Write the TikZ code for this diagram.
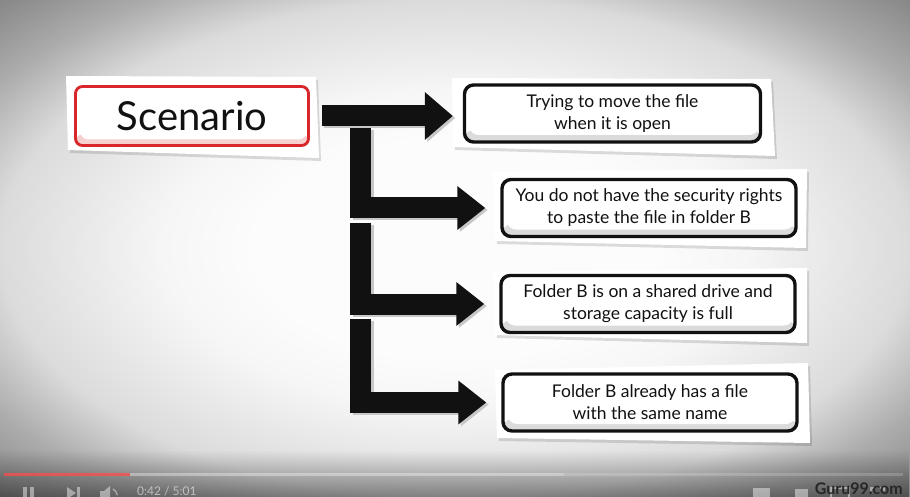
\documentclass[tikz,border=0pt]{standalone}
\usepackage{fontspec}
\setmainfont{Lato}
\usetikzlibrary{arrows.meta,calc,fadings}
\definecolor{bgc}{HTML}{FCFCFC}
\definecolor{bgi}{HTML}{F6F6F6}
\definecolor{bgm}{HTML}{DBDBDB}
\definecolor{bgo}{HTML}{ACACAC}
\definecolor{bge}{HTML}{868686}
\definecolor{ink}{HTML}{111111}
\definecolor{redline}{HTML}{D8262A}
\definecolor{pinkband}{HTML}{F6CFCF}
\pgfdeclareradialshading{vignette}{\pgfpoint{0bp}{0bp}}{color(0bp)=(bgc); color(11bp)=(bgc); color(16bp)=(bgi); color(25bp)=(bgm); color(30bp)=(bgo); color(35.5bp)=(bge); color(50bp)=(bge)}
\begin{document}
\begin{tikzpicture}[x=1pt,y=-1pt,
  papershadow/.style={fill=black,opacity=.13},
  paper/.style={fill=white},
  cardbox/.style={draw=ink, line width=3.4pt, rounded corners=9pt, fill=white,
    minimum width=294pt, minimum height=57pt, align=center, text=ink, inner sep=2pt,
    font=\fontsize{17.5}{22}\selectfont,
    path picture={
      \fill[black!14] (path picture bounding box.south west) rectangle ([yshift=12pt]path picture bounding box.south east);
      \fill[white, rounded corners=9pt] ([xshift=5pt,yshift=7pt]path picture bounding box.south west) rectangle ([xshift=-2pt,yshift=-1pt]path picture bounding box.north east);}},
  scenbox/.style={draw=redline, line width=2.8pt, rounded corners=7pt, fill=white,
    minimum width=233pt, minimum height=59pt, text=ink,
    font=\fontsize{40}{44}\selectfont,
    path picture={
      \fill[pinkband] (path picture bounding box.south west) rectangle ([yshift=11pt]path picture bounding box.south east);
      \fill[white, rounded corners=8pt] ([xshift=5pt,yshift=6pt]path picture bounding box.south west) rectangle ([xshift=-2pt,yshift=-1pt]path picture bounding box.north east);}},
  blockarrow/.style={line width=21pt, draw=ink, -{Triangle[length=28pt,width=42pt]}},
  mainarrow/.style={blockarrow, -{Triangle[length=28pt,width=46pt]}},
  arrowshadow/.style={draw=black!22},
  ctrl/.style={fill=white, opacity=.45}
]
\useasboundingbox (0,0) rectangle (910,497);
% background vignette
\shade[shading=vignette] (0,0) rectangle (910,497);
\fill[black,opacity=.42,path fading=north] (0,450) rectangle (910,497);

% paper cut-outs
\fill[papershadow] (68,79) -- (318,80) -- (321,161) -- (70,153) -- cycle;
\fill[paper] (66,76) -- (316,77) -- (319,158) -- (68,150) -- cycle;
\fill[papershadow] (454,81) -- (773,82) -- (777,159) -- (455,150) -- cycle;
\fill[paper] (452,78) -- (771,79) -- (775,156) -- (453,147) -- cycle;
\fill[papershadow] (495,175) -- (809,172) -- (808,251) -- (497,244) -- cycle;
\fill[paper] (493,172) -- (807,169) -- (806,248) -- (495,241) -- cycle;
\fill[papershadow] (495,275) -- (809,271) -- (809,346) -- (497,338) -- cycle;
\fill[paper] (493,272) -- (807,268) -- (807,343) -- (495,335) -- cycle;
\fill[papershadow] (497,373) -- (810,366) -- (812,446) -- (499,441) -- cycle;
\fill[paper] (495,370) -- (808,363) -- (810,443) -- (497,438) -- cycle;

% boxes
\node[scenbox] (scen) at (192,116) {Scenario};
\node[cardbox, minimum width=296pt] (b1) at (612.5,113.5) {Trying to move the file\\when it is open};
\node[cardbox] (b2) at (649,208) {You do not have the security rights\\to paste the file in folder B};
\node[cardbox] (b3) at (648,304) {Folder B is on a shared drive and\\storage capacity is full};
\node[cardbox] (b4) at (650,402.5) {Folder B already has a file\\with the same name};

% arrow junction points
\coordinate (v0) at ($(scen.east)+(51,12)$);
\coordinate (v1) at ($(v0 |- b2.west)+(0,15)$);
\coordinate (v2) at ($(v0 |- b3.west)+(0,15)$);

% arrow shadows
\begin{scope}[transform canvas={shift={(2.5pt,-2pt)}}]
\draw[mainarrow, arrowshadow] ([xshift=12pt]scen.east) -- ([xshift=-10pt]b1.west |- scen.east);
\draw[blockarrow, arrowshadow] (v0) |- ([xshift=-15pt]b2.west);
\draw[blockarrow, arrowshadow] (v1) |- ([xshift=-15pt]b3.west);
\draw[blockarrow, arrowshadow] (v2) |- ([xshift=-15pt]b4.west);
\end{scope}
% arrows
\draw[mainarrow] ([xshift=12pt]scen.east) -- ([xshift=-10pt]b1.west |- scen.east);
\draw[blockarrow] (v0) |- ([xshift=-15pt]b2.west);
\draw[blockarrow] (v1) |- ([xshift=-15pt]b3.west);
\draw[blockarrow] (v2) |- ([xshift=-15pt]b4.west);

% video player bar
\fill[red!70!white, opacity=.75] (4,472.5) rectangle (130,475.5);
\fill[white, opacity=.35] (130,472.5) rectangle (564,475.5);
\fill[white, opacity=.18] (564,472.5) rectangle (903,475.5);
\fill[ctrl] (23,487) rectangle (27,497);
\fill[ctrl] (30,487) rectangle (34,497);
\fill[ctrl] (67,487) -- (76,493) -- (67,499) -- cycle;
\fill[ctrl] (77,487) rectangle (80,497);
\fill[ctrl] (100,491) rectangle (104,497) -- (104,491) -- (110,486) -- (110,497) -- cycle;
\draw[white, opacity=.45, line width=1.3pt] (113,489) arc[start angle=-60, end angle=-10, radius=9];
\node[anchor=north west, inner sep=0pt, font=\fontsize{12}{12}\selectfont, text=white, opacity=.55] (time) at (137,486) {0:42 / 5:01};
\fill[ctrl] (753,488) rectangle (770,497);
\fill[ctrl] (795,489) rectangle (808,497);
\draw[white, opacity=.45, line width=1.2pt] (831,488) rectangle (849,499);
\draw[white, opacity=.45, line width=1.2pt] (871,491) |- (875,488) (880,488) -| (884,491);
\node[anchor=south east, inner sep=0pt, font=\bfseries\fontsize{16}{16}\selectfont, text=black!85] (wm) at (903,495) {Guru99.com};
\end{tikzpicture}
\end{document}
